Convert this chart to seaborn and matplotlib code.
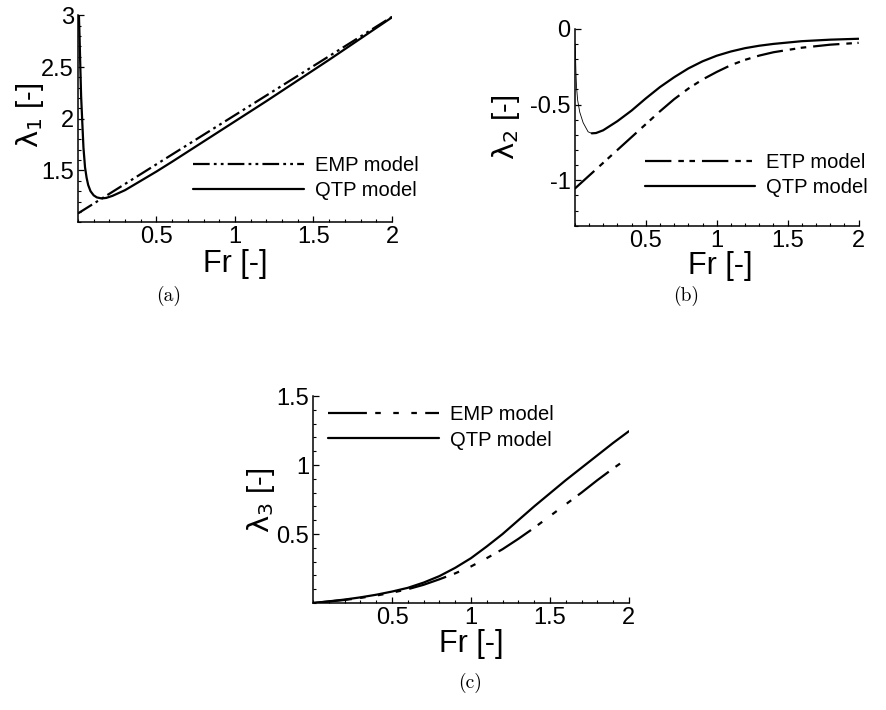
import matplotlib
matplotlib.use('Agg')
import matplotlib.pyplot as plt
from matplotlib.ticker import MultipleLocator
import seaborn as sns

# (a) lambda_1 vs Fr
fr_a_qtp = [0.006, 0.010, 0.015, 0.020, 0.028, 0.035, 0.045, 0.055, 0.065, 0.080,
            0.10, 0.12, 0.15, 0.18, 0.22, 0.30, 0.40, 0.50, 0.60, 0.80,
            1.0, 1.2, 1.4, 1.6, 1.8, 2.0]
lam1_qtp = [3.0, 2.8, 2.5, 2.22, 1.95, 1.72, 1.53, 1.43, 1.36, 1.30,
            1.26, 1.24, 1.23, 1.235, 1.255, 1.31, 1.40, 1.49, 1.585, 1.78,
            1.975, 2.17, 2.37, 2.57, 2.775, 2.98]
fr_a_emp = [0.0, 2.0]
lam1_emp = [1.085, 2.985]

# (b) lambda_2 vs Fr
fr_b_qtp_fino = [0.003, 0.008, 0.012, 0.02, 0.035, 0.059, 0.094, 0.12]
lam2_qtp_fino = [-0.10, -0.28, -0.38, -0.47, -0.55, -0.62, -0.68, -0.69]
fr_b_qtp = [0.12, 0.15, 0.2, 0.3, 0.4, 0.5, 0.6, 0.7, 0.8, 0.9,
            1.0, 1.1, 1.2, 1.3, 1.4, 1.6, 1.8, 2.0]
lam2_qtp = [-0.69, -0.688, -0.67, -0.61, -0.54, -0.46, -0.385, -0.32, -0.262, -0.215,
            -0.178, -0.15, -0.128, -0.112, -0.10, -0.082, -0.072, -0.066]
fr_b_etp = [0.0, 0.1, 0.2, 0.3, 0.4, 0.5, 0.6, 0.7, 0.8, 0.9,
            1.0, 1.1, 1.2, 1.3, 1.4, 1.6, 1.8, 2.0]
lam2_etp = [-1.055, -0.97, -0.885, -0.80, -0.715, -0.63, -0.545, -0.465, -0.395, -0.335,
            -0.285, -0.24, -0.205, -0.177, -0.155, -0.125, -0.105, -0.093]

# (c) lambda_3 vs Fr
fr_c = [0.0, 0.1, 0.2, 0.3, 0.4, 0.5, 0.6, 0.7, 0.8, 0.9, 1.0,
        1.1, 1.2, 1.3, 1.4, 1.5, 1.6, 1.7, 1.8, 1.9, 2.0]
lam3_qtp = [0.0, 0.012, 0.025, 0.041, 0.06, 0.083, 0.11, 0.148, 0.195, 0.255, 0.325,
            0.41, 0.50, 0.60, 0.70, 0.795, 0.89, 0.98, 1.07, 1.16, 1.245]
lam3_emp = [0.0, 0.011, 0.022, 0.037, 0.054, 0.075, 0.10, 0.132, 0.172, 0.215, 0.265,
            0.325, 0.39, 0.465, 0.545, 0.63, 0.715, 0.80, 0.89, 0.975, 1.055]

sns.set_style('ticks', rc={'axes.edgecolor': 'black', 'text.color': 'black',
                           'xtick.color': 'black', 'ytick.color': 'black',
                           'axes.labelcolor': 'black'})
plt.rcParams['font.family'] = ['Liberation Sans', 'DejaVu Sans']
plt.rcParams['axes.unicode_minus'] = False
plt.rcParams['lines.scale_dashes'] = False
plt.rcParams['xtick.direction'] = 'in'
plt.rcParams['ytick.direction'] = 'in'

fig = plt.figure(figsize=(8.87, 7.10), dpi=100)
ax_a = fig.add_axes([0.0879, 0.687, 0.354, 0.2915])
ax_b = fig.add_axes([0.648, 0.682, 0.320, 0.2775])
ax_c = fig.add_axes([0.353, 0.1507, 0.356, 0.2915])

lw = 1.6
sns.lineplot(x=fr_a_emp, y=lam1_emp, ax=ax_a, color='black', lw=lw,
             linestyle=(0, (12, 3, 2, 3, 2, 3)), label='EMP model')
sns.lineplot(x=fr_a_qtp, y=lam1_qtp, ax=ax_a, color='black', lw=lw, label='QTP model')

sns.lineplot(x=fr_b_etp, y=lam2_etp, ax=ax_b, color='black', lw=lw,
             linestyle=(0, (19, 5, 4, 4, 4, 5)), label='ETP model')
sns.lineplot(x=fr_b_qtp, y=lam2_qtp, ax=ax_b, color='black', lw=lw, label='QTP model')
sns.lineplot(x=fr_b_qtp_fino, y=lam2_qtp_fino, ax=ax_b, color='black', lw=0.6)

sns.lineplot(x=fr_c, y=lam3_emp, ax=ax_c, color='black', lw=lw,
             linestyle=(0, (28, 6, 4, 9, 4, 9, 4, 6)), label='EMP model')
sns.lineplot(x=fr_c, y=lam3_qtp, ax=ax_c, color='black', lw=lw, label='QTP model')


def formato(ax, ylim, yticks, ylabels, ylabel, ylab_pos, xlab_pos, leg_pos):
    ax.set_xlim(0, 2)
    ax.set_ylim(*ylim)
    ax.set_xticks([0.5, 1, 1.5, 2], labels=['0.5', '1', '1.5', '2'])
    ax.set_yticks(yticks, labels=ylabels)
    ax.xaxis.set_minor_locator(MultipleLocator(0.1))
    ax.yaxis.set_minor_locator(MultipleLocator(0.1))
    ax.tick_params(which='major', length=4, width=0.9, labelsize=17, pad=3)
    ax.tick_params(which='minor', length=2.2, width=0.8)
    for s in ['left', 'bottom']:
        ax.spines[s].set_linewidth(1.1)
    sns.despine(ax=ax)
    ax.set_xlabel('Fr [-]', fontsize=22, va='center')
    ax.set_ylabel(ylabel, fontsize=21, va='center')
    ax.xaxis.set_label_coords(*xlab_pos)
    ax.yaxis.set_label_coords(*ylab_pos)
    ax.legend(loc='center left', bbox_to_anchor=leg_pos, frameon=False,
              fontsize=14.5, handlelength=5.5, handletextpad=0.55,
              labelspacing=0.3, borderpad=0, borderaxespad=0)


formato(ax_a, (1, 3), [1.5, 2, 2.5, 3], ['1.5', '2', '2.5', '3'],
        r'$\mathrm{\lambda}_1$ [-]', (-0.153, 0.517), (0.5, -0.203), (0.366, 0.215))
formato(ax_b, (-1.3, 0), [-1, -0.5, 0], ['-1', '-0.5', '0'],
        r'$\mathrm{\lambda}_2$ [-]', (-0.243, 0.497), (0.514, -0.203), (0.246, 0.256))
formato(ax_c, (0, 1.5), [0.5, 1, 1.5], ['0.5', '1', '1.5'],
        r'$\mathrm{\lambda}_3$ [-]', (-0.165, 0.498), (0.5, -0.199), (0.047, 0.848))

fig.text(0.1905, 0.583, '(a)', family='cmr10', fontsize=14, ha='center', va='center')
fig.text(0.7734, 0.583, '(b)', family='cmr10', fontsize=14, ha='center', va='center')
fig.text(0.530, 0.038, '(c)', family='cmr10', fontsize=14, ha='center', va='center')

fig.savefig('out.png', dpi=100)
